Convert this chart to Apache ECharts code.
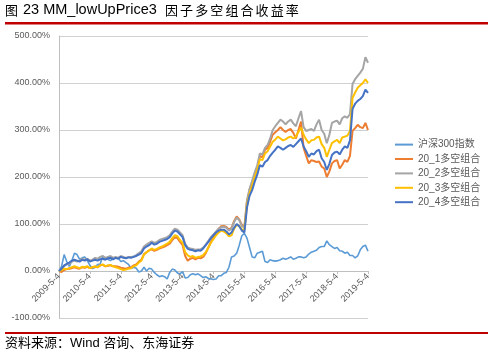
<!DOCTYPE html>
<html><head><meta charset="utf-8">
<script src="https://cdn.jsdelivr.net/npm/echarts@6/dist/echarts.min.js"></script>
<style>html,body{margin:0;padding:0;background:#fff}#c{width:495px;height:356px}</style>
</head><body><div id="c"></div>
<script>
// monthly categories 2009-5-4 ... 2019-5-4
var categories = [];
for (var y = 2009; y <= 2019; y++) {
  for (var m = 1; m <= 12; m++) {
    if ((y === 2009 && m < 5) || (y === 2019 && m > 5)) continue;
    categories.push(y + '-' + m + '-4');
  }
}
var seriesNames = ['沪深300指数', '20_1多空组合', '20_2多空组合', '20_3多空组合', '20_4多空组合'];
var yTicks = [-100, 0, 100, 200, 300, 400, 500];

var hs300 = [0,10,35,20,10,22,38,35,
  25,28,30,22,12,5,8,14,15,32,26,25,
  22,27,28,28,20,22,18,14,5,8,6,-2,
  0,8,0,6,4,-3,-8,-12,-10,-12,-17,-3,
  4,2,-4,-6,-1,-15,-14,-8,-6,-8,-6,-10,
  -14,-12,-16,-17,-18,-17,-10,-10,-5,-3,8,30,
  32,38,55,75,80,70,50,30,28,38,40,42,
  20,18,24,22,21,22,24,27,25,27,30,25,
  27,30,30,28,30,36,40,42,44,50,52,52,
  64,56,52,48,50,43,42,38,40,33,33,28,
  32,45,52,55,42];

var s1 = [0,-2,2,4,5,6,8,6,5,8,7,9,6,8,9,8,12,13,10,11,12,10,10,9,7,6,5,7,8,12,14,20,
  24,36,40,44,46,43,45,48,50,52,55,58,66,72,70,62,55,32,22,26,28,25,28,27,30,38,50,62,72,82,90,95,
  96,94,88,92,106,116,110,98,94,
  148,172,188,205,220,245,242,258,262,275,290,295,300,306,300,296,300,302,294,282,300,318,262,245,229,236,234,232,233,222,218,200,212,229,234,236,218,226,236,232,245,
  298,304,311,306,304,315,300];

var s2 = [0,4,10,14,16,20,22,20,22,26,24,26,22,24,28,26,30,32,28,30,32,28,30,28,32,30,28,30,30,31,34,38,
  42,52,56,60,63,60,62,66,68,70,72,76,84,90,88,82,76,58,50,48,47,45,46,46,50,56,64,72,78,84,90,93,
  94,92,86,90,104,114,108,96,92,
  150,175,192,210,225,250,248,262,268,282,300,308,315,322,318,312,318,322,314,308,325,340,306,298,300,302,298,312,322,300,292,272,290,315,318,320,312,325,329,326,334,
  398,408,415,422,430,455,443];

var s3 = [0,2,5,4,6,8,10,8,6,9,8,10,6,8,10,8,12,14,10,12,13,10,8,6,4,2,3,5,6,10,12,18,
  22,35,40,44,48,45,47,50,52,55,58,62,70,76,74,66,60,40,33,30,32,28,30,31,34,40,50,60,68,76,82,86,
  84,80,74,76,90,98,96,88,88,
  140,165,182,200,215,238,236,250,255,265,275,280,286,282,278,280,284,286,282,286,296,305,290,280,272,278,279,284,286,270,262,243,258,272,276,279,272,284,286,288,298,
  368,380,390,395,400,408,400];

var s4 = [0,5,12,15,18,22,24,22,20,24,22,25,20,22,24,22,25,26,24,27,28,25,28,26,30,28,27,29,28,30,32,35,
  38,48,52,55,60,56,58,62,64,66,68,72,80,86,84,78,72,55,47,45,44,42,44,43,48,55,62,70,76,82,86,88,
  88,84,78,82,92,100,95,86,82,
  135,160,172,190,205,225,222,232,236,245,252,258,265,262,258,262,266,268,264,270,276,282,265,255,243,250,248,255,258,240,232,215,228,247,252,254,248,258,265,262,278,
  345,356,362,366,372,386,379];

var colors = ['#5B9BD5', '#ED7D31', '#A5A5A5', '#FFC000', '#4472C4'];
var allData = [hs300, s1, s2, s3, s4];

var FONT = '"Liberation Sans", Arial, "Noto Sans CJK SC", sans-serif';
var CJK = '"Noto Sans CJK SC", sans-serif';

var titleChars = ['因','子','多','空','组','合','收','益','率'];
var graphics = [
  {type:'text', left:5, top:4, style:{text:'图', font:'13px ' + CJK, fill:'#000'}},
  {type:'text', left:23, top:3, style:{text:'23 MM_lowUpPrice3', font:'14.5px ' + FONT, fill:'#000'}},
  {type:'rect', shape:{x:5, y:22, width:483, height:2.5}, style:{fill:'#C00000'}},
  {type:'rect', shape:{x:5, y:332, width:483, height:2}, style:{fill:'#C00000'}},
  {type:'text', left:5, top:337, style:{text:'资料来源：Wind 咨询、东海证券', font:'13px ' + FONT, fill:'#000'}}
];
for (var k = 0; k < titleChars.length; k++) {
  graphics.push({type:'text', left: 165 + k * 15.1, top:4, style:{text:titleChars[k], font:'13px ' + CJK, fill:'#000'}});
}

var series = seriesNames.map(function (n, idx) {
  return {
    name: n, type: 'line', data: allData[idx], symbol: 'none',
    lineStyle: {color: colors[idx], width: idx === 0 ? 1.6 : 2},
    itemStyle: {color: colors[idx]},
    animation: false
  };
});

var chart = echarts.init(document.getElementById('c'), null, {renderer: 'canvas'});
chart.setOption({
  animation: false,
  textStyle: {fontFamily: FONT},
  grid: {left: 59, right: 127, top: 36, bottom: 38, containLabel: false},
  legend: {
    data: seriesNames, orient: 'vertical', left: 389, top: 134,
    itemWidth: 18, itemHeight: 14, itemGap: 3.2,
    itemStyle: {opacity: 0},
    textStyle: {fontSize: 10, color: '#595959', fontFamily: FONT}
  },
  xAxis: {
    type: 'category', data: categories, boundaryGap: false,
    offset: -47,
    axisLine: {onZero: false, lineStyle: {color: '#BFBFBF'}},
    axisTick: {show: true, interval: 11, length: 3, lineStyle: {color: '#BFBFBF'}},
    axisLabel: {interval: 11, rotate: 45, fontSize: 9, color: '#595959', margin: 4},
    splitLine: {show: false}
  },
  yAxis: {
    type: 'value', min: yTicks[0], max: yTicks[yTicks.length - 1], interval: 100,
    axisLine: {show: true, lineStyle: {color: '#BFBFBF'}},
    axisTick: {show: false},
    axisLabel: {fontSize: 9, color: '#595959', margin: 9, formatter: function (v) { return v.toFixed(2) + '%'; }},
    splitLine: {lineStyle: {color: '#D0D0D0'}}
  },
  graphic: graphics,
  series: series
});
</script></body></html>
